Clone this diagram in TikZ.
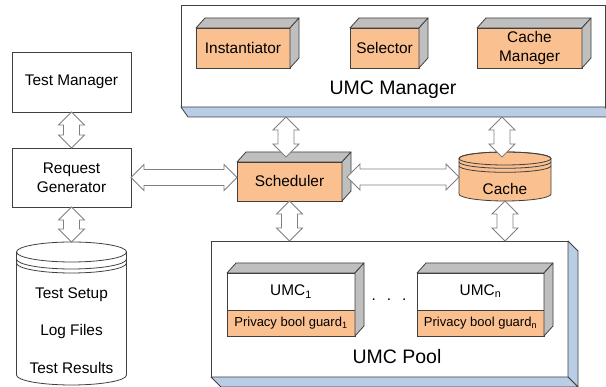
\documentclass[tikz,border=0pt]{standalone}
\usepackage{fontspec}
\setmainfont{Liberation Sans}
\usetikzlibrary{positioning,calc}
\definecolor{boxorange}{HTML}{FAC090}
\definecolor{sidegray}{HTML}{BFBFBF}
\definecolor{baseblue}{HTML}{B9CDE5}
\definecolor{edgegray}{HTML}{404040}
\tikzset{plain box/.style={draw=edgegray,fill=white,line width=0.8pt,inner sep=0pt,outer sep=0pt,
                           align=center,font=\fontsize{15.4}{19}\selectfont},
            comp box/.style={plain box,fill=boxorange},
            guard box/.style={comp box,minimum height=26,font=\fontsize{13}{15}\selectfont},
            side face/.style={draw=edgegray,fill=sidegray,line width=0.8pt,line join=round},
            base face/.style={draw=edgegray,fill=baseblue,line width=0.8pt,line join=round},
            link/.style={draw=gray,fill=white,line width=0.8pt},
            title/.style={inner sep=0pt,font=\fontsize{19.5}{22}\selectfont},
            label text/.style={inner sep=0pt,font=\fontsize{15.4}{19}\selectfont},
            }
% two-headed block arrows between named points
\newcommand{\vconn}[2]{\draw[link] (#1) -- ++(13,-13) -- ++(-5,0) -- ($(#2)+(8,13)$) -- ++(5,0) -- (#2)
    -- ++(-13,13) -- ++(5,0) -- ($(#1)+(-8,-13)$) -- ++(-5,0) -- cycle;}
\newcommand{\hconn}[2]{\draw[link] (#1) -- ++(13,13) -- ++(0,-5) -- ($(#2)+(-13,8)$) -- ++(0,5) -- (#2)
    -- ++(-13,-13) -- ++(0,5) -- ($(#1)+(13,-8)$) -- ++(0,-5) -- cycle;}

\begin{document}
\begin{tikzpicture}[x=1pt,y=1pt]
    \useasboundingbox (0,0) rectangle (606,387);

    % UMC manager
    \node[plain box,minimum width=424,minimum height=102] (mgr) at (393,331) {};
    \draw[base face] (mgr.south west) -- ++(7,-10) -- ($(mgr.south east)+(7,-10)$) -- (mgr.south east) -- cycle;
    \node[title] (mgrname) at (393,297) {UMC Manager};
    \node[comp box,minimum width=94,minimum height=40] (inst) at (243,339) {Instantiator};
    \node[comp box,minimum width=69,minimum height=40] (sel) at (384.5,339) {Selector};
    \node[comp box,minimum width=105,minimum height=40] (cmgr) at (529.5,339) {Cache\\Manager};

    % test side
    \node[plain box,minimum width=119,minimum height=60] (tm) at (71.5,305) {Test Manager};
    \node[plain box,minimum width=119,minimum height=59] (rg) [below=36pt of tm] {Request\\Generator};
    \draw[line width=0.8pt,draw=edgegray] (16.5,135) -- (16.5,12)
        arc[start angle=180,end angle=360,x radius=55,y radius=10] -- (126.5,135);
    \draw[line width=0.8pt,draw=edgegray] (71.5,135) ellipse[x radius=55,y radius=10];
    \foreach \y in {128,124}
        \draw[line width=0.8pt,draw=edgegray] (16.5,\y) arc[start angle=180,end angle=360,x radius=55,y radius=10];
    \coordinate (dbtop) at (71.5,145);
    \node[label text] (setup) at (71.5,92) {Test Setup};
    \node[label text] (logs) at (71.5,55) {Log Files};
    \node[label text] (results) at (71.5,19) {Test Results};

    % scheduler and cache
    \node[comp box,minimum width=105,minimum height=39] (sched) at (289.5,205.5) {Scheduler};
    \draw[line width=0.8pt,draw=edgegray,fill=boxorange] (459,228.5) -- (459,193)
        arc[start angle=180,end angle=360,x radius=46,y radius=7] -- (551,228.5)
        arc[start angle=0,end angle=180,x radius=46,y radius=6.5] -- cycle;
    \draw[line width=0.8pt,draw=edgegray] (505,228.5) ellipse[x radius=46,y radius=6.5];
    \foreach \y in {225.2,221.2}
        \draw[line width=0.8pt,draw=edgegray] (459,\y) arc[start angle=180,end angle=360,x radius=46,y radius=6.5];
    \node[label text] (cache) at (505,198) {Cache};

    % UMC pool
    \node[plain box,minimum width=357,minimum height=136] (pool) at (389.5,78) {};
    \draw[base face] (pool.north east) -- ++(10,-10) -- ($(pool.south east)+(10,-10)$) -- (pool.south east) -- cycle;
    \draw[base face] (pool.south west) -- ++(10,-10) -- ($(pool.south east)+(10,-10)$) -- (pool.south east) -- cycle;
    \node[title] (poolname) at (397,30) {UMC Pool};
    \node[plain box,minimum width=128,minimum height=37] (umc1) at (291,95.5) {UMC\textsubscript{1}};
    \node[guard box,minimum width=128] (guard1) [below=0pt of umc1] {Privacy bool guard\textsubscript{1}};
    \node[plain box,minimum width=127,minimum height=37] (umcn) [right=62pt of umc1] {UMC\textsubscript{n}};
    \node[guard box,minimum width=127] (guardn) [below=0pt of umcn] {Privacy bool guard\textsubscript{n}};
    \node[label text] (dots) at (389,87) {.\hspace{11pt}.\hspace{11pt}.};

    % 3d faces
    \foreach \t/\b in {inst/inst,sel/sel,cmgr/cmgr,sched/sched,umc1/guard1,umcn/guardn}{
        \draw[side face] (\t.north west) -- ++(9,10) -- ($(\t.north east)+(9,10)$) -- (\t.north east) -- cycle;
        \draw[side face] (\t.north east) -- ++(9,10) -- ($(\b.south east)+(9,10)$) -- (\b.south east) -- cycle;
    }

    % connectors
    \coordinate (sw) at (rg.east -| sched.west);
    \coordinate (se) at ($(sched.east)+(5,4.5)$);
    \coordinate (cw) at (459,210);
    \coordinate (m1) at (286,270);
    \coordinate (s1) at (286,230);
    \coordinate (m2) at (502,270);
    \coordinate (c1) at (502,230);
    \coordinate (cb) at (505,186);
    \coordinate (p1) at (sched.south |- pool.north);
    \coordinate (p2) at (cb |- pool.north);

    \vconn{tm.south}{rg.north}
    \vconn{rg.south}{dbtop}
    \hconn{rg.east}{sw}
    \hconn{se}{cw}
    \vconn{m1}{s1}
    \vconn{m2}{c1}
    \vconn{sched.south}{p1}
    \vconn{cb}{p2}

\end{tikzpicture}
\end{document}
